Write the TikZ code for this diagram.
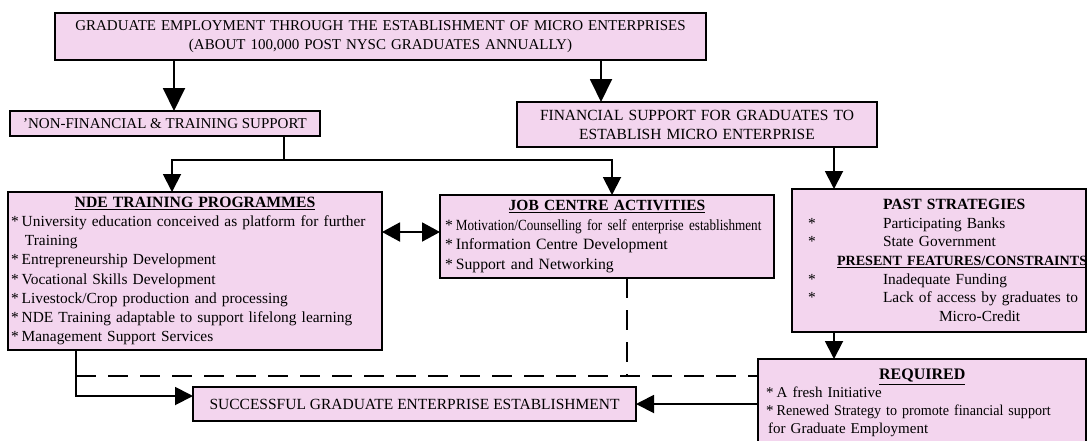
\documentclass[tikz,border=0pt]{standalone}
\usepackage{fontspec}
\setmainfont{Liberation Serif}
\newfontfamily\narrowserif[FakeStretch=0.85]{Liberation Serif}
\newfontfamily\slimserif[FakeStretch=0.94]{Liberation Serif}
\usetikzlibrary{arrows.meta}
\setlength\parindent{0pt}
\newcommand\fsz[2]{\fontsize{#1}{#2}\selectfont}
\definecolor{boxpink}{RGB}{243,213,238}
\tikzset{
  box/.style={draw=black, line width=2.5pt, fill=boxpink, rectangle,
              inner sep=0pt, outer sep=0pt},
  wire/.style={line width=1.9pt, line join=miter},
  link/.style={wire, -{Triangle[length=18pt,width=18pt]}},
  biglink/.style={wire, -{Triangle[length=23pt,width=22pt]}},
  twoway/.style={wire, {Triangle[length=18pt,width=19pt]}-{Triangle[length=18pt,width=19pt]}},
  dashline/.style={line width=1.9pt, dash pattern=on 20pt off 12pt}
}
\begin{document}
\begin{tikzpicture}[x=1pt,y=-1pt]
\useasboundingbox (0,0) rectangle (1091,440);
\clip (0,0) rectangle (1091,440);

% ---- boxes ----
\node[box, minimum width=651pt, minimum height=47pt, text width=651pt,
      align=center, font=\fsz{15}{19}] (top) at (380.5,36.5)
  {GRADUATE EMPLOYMENT THROUGH THE ESTABLISHMENT OF MICRO ENTERPRISES\\
   (ABOUT 100,000 POST NYSC GRADUATES ANNUALLY)};

\node[box, minimum width=310pt, minimum height=25pt, font=\fsz{15}{17}]
  (nonfin) at (165,123.5) {'NON-FINANCIAL \& TRAINING SUPPORT};

\node[box, minimum width=360pt, minimum height=45pt, text width=360pt,
      align=center, font=\fsz{15.5}{19}] (fin) at (697,124.5)
  {FINANCIAL SUPPORT FOR GRADUATES TO\\ESTABLISH MICRO ENTERPRISE};

\node[box, minimum width=374pt, minimum height=158pt, text width=374pt,
      align=left, font=\fsz{15.4}{19.2}] (nde) at (195,271)
  {\makebox[374pt]{\fsz{15.7}{19.2}\bfseries\underline{NDE TRAINING PROGRAMMES}}\\
   \hspace*{3pt}*\hspace{3pt}University education conceived as platform for further\\
   \hspace*{17pt}Training\\
   \hspace*{3pt}*\hspace{3pt}Entrepreneurship Development\\
   \hspace*{3pt}*\hspace{3pt}Vocational Skills Development\\
   \hspace*{3pt}*\hspace{3pt}Livestock/Crop production and processing\\
   \hspace*{3pt}*\hspace{3pt}NDE Training adaptable to support lifelong learning\\
   \hspace*{3pt}*\hspace{3pt}Management Support Services};

\node[box, minimum width=334pt, minimum height=83pt, text width=334pt,
      align=left, font=\fsz{15.7}{19.5}] (job) at (607,236.5)
  {\makebox[334pt]{\fsz{15.5}{19.5}\bfseries\underline{JOB CENTRE ACTIVITIES}}\\
   \hspace*{5pt}*\hspace{3pt}{\narrowserif\fsz{15.5}{19.5}Motivation/Counselling for self enterprise establishment}\\
   \hspace*{5pt}*\hspace{3pt}Information Centre Development\\
   \hspace*{5pt}*\hspace{3pt}Support and Networking};

\node[box, minimum width=294pt, minimum height=143pt, text width=294pt,
      align=left, font=\fsz{15.4}{18.7}] (past) at (939,260.5)
  {\hspace*{91pt}{\fsz{15.6}{18.7}\bfseries PAST STRATEGIES}\\
   \hspace*{16pt}\makebox[75pt][l]{*}Participating Banks\\
   \hspace*{16pt}\makebox[75pt][l]{*}State Government\\
   \hspace*{45pt}{\fsz{14.1}{18.7}\bfseries\underline{PRESENT FEATURES/CONSTRAINTS}}\\
   \hspace*{16pt}\makebox[75pt][l]{*}Inadequate Funding\\
   \hspace*{16pt}\makebox[75pt][l]{*}Lack of access by graduates to\\
   \hspace*{147pt}Micro-Credit};

\node[box, minimum width=328pt, minimum height=120pt] (req) at (922,419) {};
\node[anchor=north west, inner sep=0pt, text width=328pt, align=left,
      font=\fsz{15}{17.8}, yshift=-10pt] (reqtext) at (req.north west)
  {\makebox[328pt]{\fsz{16}{17.8}\bfseries\underline{REQUIRED}}\\
   \hspace*{8pt}*\hspace{3pt}A fresh Initiative\\
   \hspace*{8pt}*\hspace{3pt}{\slimserif Renewed Strategy to promote financial support}\\
   \hspace*{10pt}for Graduate Employment};

\node[box, minimum width=443pt, minimum height=34pt, font=\fsz{15.5}{17}]
  (succ) at (414.5,404) {SUCCESSFUL GRADUATE ENTERPRISE ESTABLISHMENT};

% ---- routing columns and rows ----
\coordinate (xa) at (174,0);
\coordinate (xb) at (601,0);
\coordinate (xc) at (284,0);
\coordinate (split) at (284,160);
\coordinate (xd) at (172,160);
\coordinate (xe) at (612,160);
\coordinate (xf) at (834,0);
\coordinate (xg) at (76,0);
\coordinate (xh) at (627,0);
\coordinate (ya) at (0,396);
\coordinate (yb) at (0,376);
\coordinate (yc) at (0,404);
\coordinate (yd) at (0,232);

% ---- connectors ----
\draw[biglink] (xa |- top.south) -- (xa |- nonfin.north);
\draw[biglink] (xb |- top.south) -- (xb |- fin.north);

\draw[wire] (xc |- nonfin.south) -- (split);
\draw[link] (split) -- (xd) -- (xd |- nde.north);
\draw[link] (split) -- (xe) -- (xe |- job.north);

\draw[twoway] (nde.east |- yd) -- (job.west |- yd);

\draw[link] (xf |- fin.south) -- (xf |- past.north);
\draw[link] (xf |- past.south) -- (xf |- req.north);

\draw[dashline] (xg |- yb) -- (req.west |- yb);
\draw[dashline] (xh |- job.south) -- (xh |- yb);
\draw[link] (xg |- nde.south) -- (xg |- ya) -- (succ.west |- ya);
\draw[link] (req.west |- yc) -- (succ.east |- yc);
\end{tikzpicture}
\end{document}
